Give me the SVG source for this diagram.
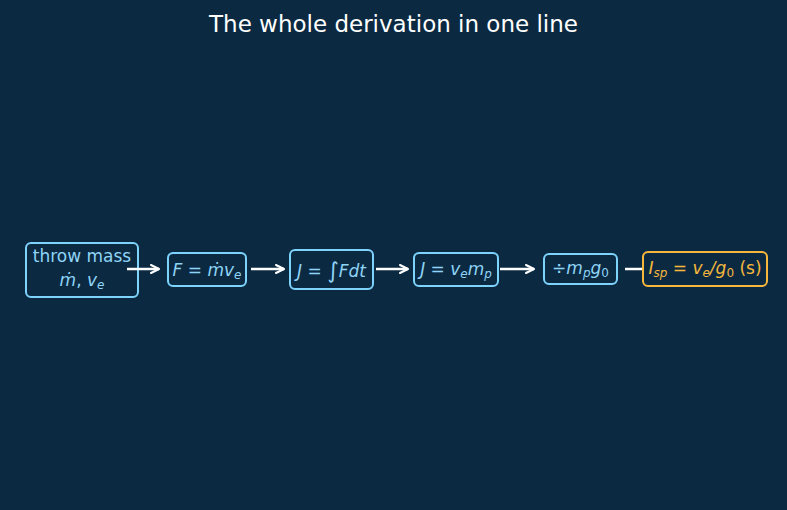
<svg xmlns="http://www.w3.org/2000/svg" width="787" height="510" viewBox="0 0 787 510">
<defs>
<marker id="ah" viewBox="0 0 10 10" refX="9" refY="5" markerWidth="10" markerHeight="10" markerUnits="userSpaceOnUse" orient="auto">
<path d="M1,1 L9,5 L1,9" fill="none" stroke="#ffffff" stroke-width="2" stroke-linecap="round" stroke-linejoin="round"/>
</marker>
<style>
text{font-family:"DejaVu Sans","Liberation Sans",sans-serif;}
.box{fill:#0b2a42;stroke:#7dd3fc;stroke-width:2;}
.obox{fill:#0b2a42;stroke:#f6b73c;stroke-width:2;}
.t{fill:#8fd4f6;font-size:17px;text-anchor:middle;}
.o{fill:#f6b73c;font-size:17px;text-anchor:middle;}
.i{font-style:italic;}
.s{font-size:12px;}
.c{stroke:#ffffff;stroke-width:2.5;fill:none;}
</style>
</defs>
<rect width="787" height="510" fill="#0b2a42"/>
<text x="393.5" y="32" fill="#ffffff" font-size="23" text-anchor="middle">The whole derivation in one line</text>
<g id="n1">
<rect class="box" x="26" y="243" width="112" height="54" rx="5"/>
<text class="t" x="82" y="262">throw mass</text>
<text class="t" x="82" y="286"><tspan class="i">ṁ</tspan>, <tspan class="i">v</tspan><tspan class="i s" dy="3">e</tspan></text>
</g>
<g id="n2">
<rect class="box" x="168" y="253" width="78" height="33" rx="5"/>
<text class="t" x="207" y="276"><tspan class="i">F</tspan> = <tspan class="i">ṁv</tspan><tspan class="i s" dy="3">e</tspan></text>
</g>
<g id="n3">
<rect class="box" x="290" y="250" width="83" height="39" rx="5"/>
<text class="t" x="331.5" y="277"><tspan class="i">J</tspan> = <tspan font-size="22" dy="1">∫</tspan><tspan class="i" dy="-1">Fdt</tspan></text>
</g>
<g id="n4">
<rect class="box" x="414" y="253" width="84" height="33" rx="5"/>
<text class="t" x="456" y="275"><tspan class="i">J</tspan> = <tspan class="i">v</tspan><tspan class="i s" dy="3">e</tspan><tspan class="i" dy="-3">m</tspan><tspan class="i s" dy="3">p</tspan></text>
</g>
<g id="n5">
<rect class="box" x="544" y="254" width="73" height="30" rx="5"/>
<text class="t" x="580.5" y="274">÷<tspan class="i">m</tspan><tspan class="i s" dy="3">p</tspan><tspan class="i" dy="-3">g</tspan><tspan class="s" dy="3">0</tspan></text>
</g>
<g id="n6">
<rect class="obox" x="643" y="252" width="124" height="34" rx="5"/>
<text class="o" x="705" y="274"><tspan class="i">I</tspan><tspan class="i s" dy="3">sp</tspan><tspan dy="-3"> = </tspan><tspan class="i">v</tspan><tspan class="i s" dy="3">e</tspan><tspan class="i" dy="-3">/g</tspan><tspan class="s" dy="3">0</tspan><tspan dy="-3"> (s)</tspan></text>
</g>
<g id="connectors">
<line class="c" x1="127" y1="269" x2="159" y2="269" marker-end="url(#ah)"/>
<line class="c" x1="251" y1="269" x2="284" y2="269" marker-end="url(#ah)"/>
<line class="c" x1="376" y1="269" x2="408" y2="269" marker-end="url(#ah)"/>
<line class="c" x1="500" y1="269" x2="534" y2="269" marker-end="url(#ah)"/>
<line class="c" x1="625" y1="269" x2="642" y2="269"/>
</g>
</svg>
